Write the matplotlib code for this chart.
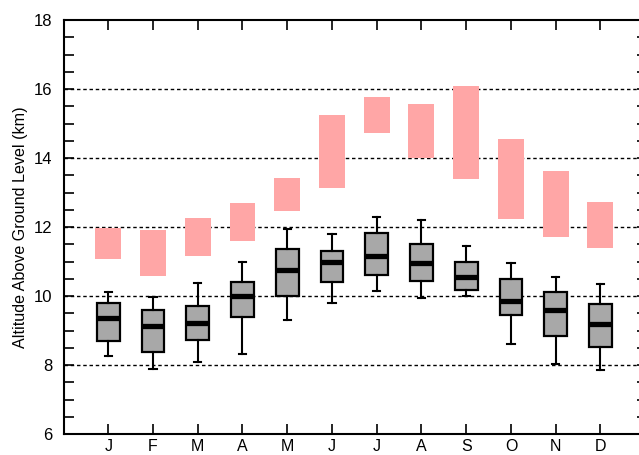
import numpy as np
import matplotlib
matplotlib.use("Agg")
import matplotlib.pyplot as plt
from matplotlib.ticker import MultipleLocator

# Monthly data
month_labels = ["J", "F", "M", "A", "M", "J", "J", "A", "S", "O", "N", "D"]
months = np.arange(1, 13)

# pink range bars
pink_low = [11.06, 10.59, 11.17, 11.58, 12.45, 13.14, 14.73, 14.00, 13.40, 12.22, 11.70, 11.38]
pink_high = [11.96, 11.91, 12.26, 12.69, 13.42, 15.24, 15.76, 15.56, 16.08, 14.55, 13.62, 12.72]

# box plot statistics
whislo = [8.25, 7.88, 8.08, 8.31, 9.31, 9.79, 10.15, 9.93, 9.99, 8.61, 8.04, 7.85]
q1 = [8.69, 8.38, 8.72, 9.38, 10.00, 10.40, 10.62, 10.44, 10.18, 9.45, 8.84, 8.52]
med = [9.36, 9.13, 9.21, 9.99, 10.76, 11.00, 11.15, 10.95, 10.54, 9.85, 9.59, 9.18]
q3 = [9.80, 9.60, 9.70, 10.41, 11.35, 11.30, 11.84, 11.52, 10.98, 10.50, 10.11, 9.78]
whishi = [10.11, 9.98, 10.37, 11.00, 11.94, 11.81, 12.30, 12.20, 11.45, 10.95, 10.54, 10.36]

plt.rcParams["font.family"] = ["Liberation Sans", "DejaVu Sans"]

fig = plt.figure(figsize=(6.39, 4.55), dpi=100)
# the right spine sits just past the right edge of the picture, as in the reference
ax = fig.add_axes([63.5 / 639, 21 / 455, 583.5 / 639, 414 / 455])

# dotted grid lines (below everything)
for yv in [8, 10, 12, 14, 16]:
    ax.axhline(yv, color="black", lw=1.0, ls=(0, (2.5, 2)), zorder=0)

ax.bar(months, np.array(pink_high) - np.array(pink_low), bottom=pink_low,
       width=0.58, color="#ffa6a6", zorder=1)

stats = []
for i in range(len(months)):
    stats.append({"whislo": whislo[i], "q1": q1[i], "med": med[i],
                  "q3": q3[i], "whishi": whishi[i], "fliers": []})

ax.bxp(stats, positions=months, widths=0.51, patch_artist=True,
       showfliers=False, manage_ticks=False,
       boxprops=dict(facecolor="#a8a8a8", edgecolor="black", linewidth=1.6),
       medianprops=dict(color="black", linewidth=3.8, solid_capstyle="butt"),
       whiskerprops=dict(color="black", linewidth=1.5),
       capprops=dict(color="black", linewidth=1.5),
       capwidths=0.16, zorder=2)

ax.set_xlim(0, 13.04)
ax.set_ylim(6, 18)
ax.set_xticks(months)
ax.set_xticklabels(month_labels)
ax.yaxis.set_major_locator(MultipleLocator(2))
ax.yaxis.set_minor_locator(MultipleLocator(0.5))
ax.tick_params(axis="both", which="both", direction="in", length=7,
               width=1.2, top=True, right=True, labelsize=12)
ax.tick_params(axis="x", pad=3.5, labelsize=11.5)
ax.tick_params(axis="y", pad=8)
for sp in ax.spines.values():
    sp.set_linewidth(1.5)

ax.set_ylabel("Altitude Above Ground Level (km)", fontsize=11.6, labelpad=4)

fig.savefig("out.png", dpi=100)
